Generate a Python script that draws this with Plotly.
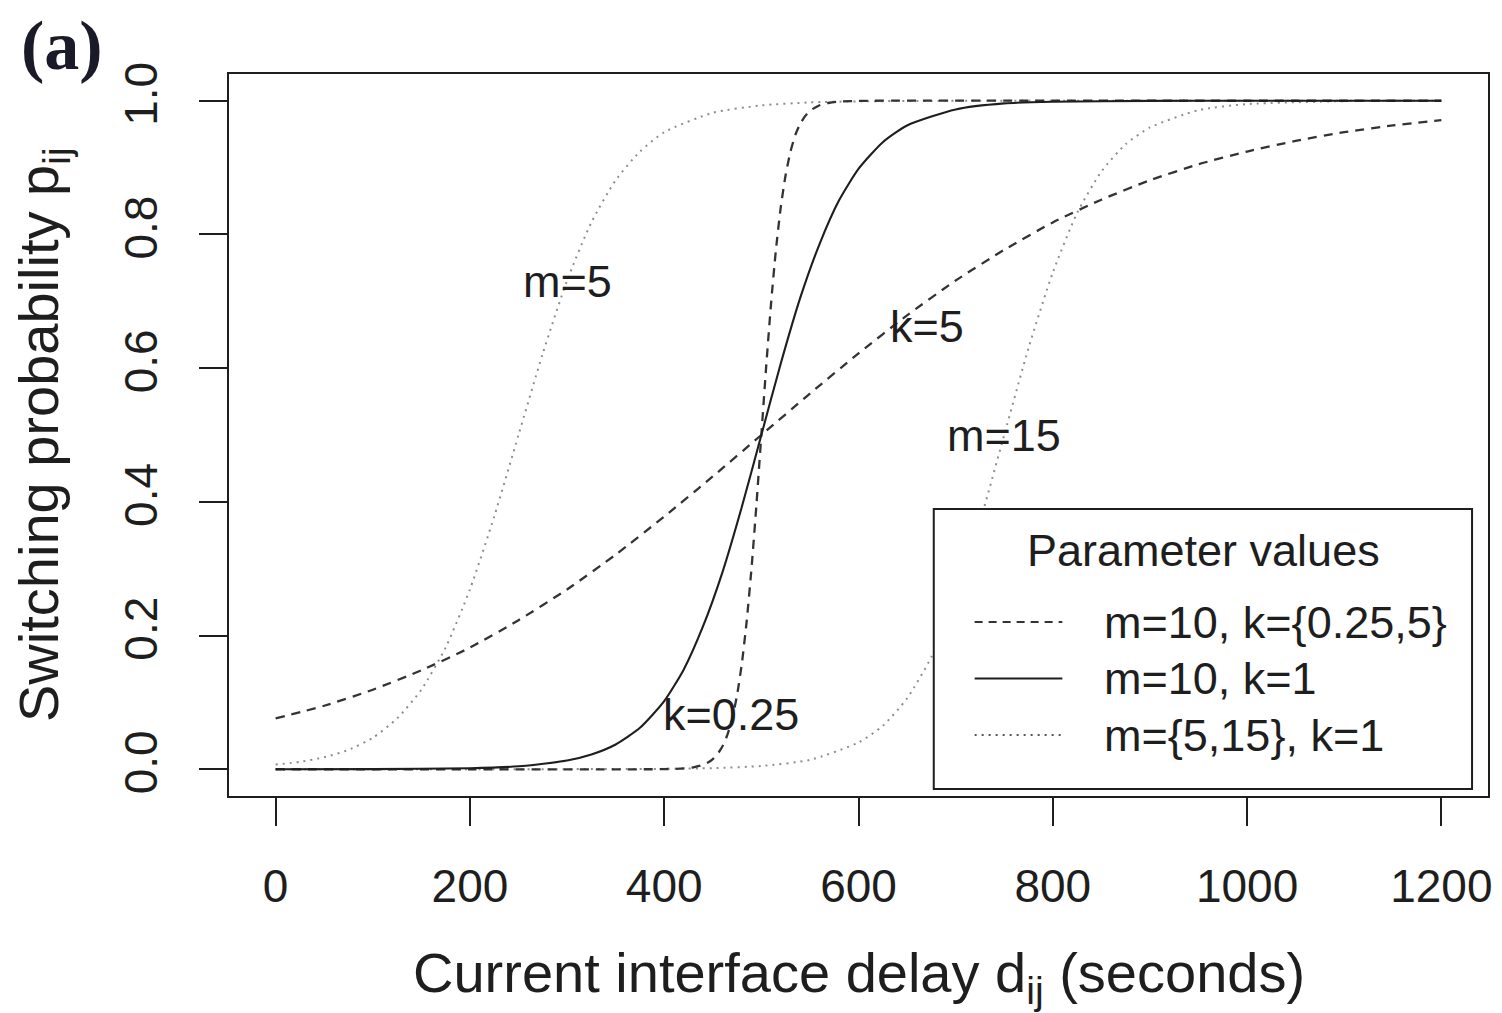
import plotly.graph_objects as go

# Switching probability curves p_ij versus current interface delay d_ij (s)
d_k1 = [0, 100, 200, 250, 300, 325, 350, 375, 400, 420, 440, 460, 480, 500,
        520, 540, 560, 580, 600, 625, 650, 700, 750, 800, 900, 1000, 1100, 1200]
p_k1 = [0.0, 0.0002, 0.0015, 0.0044, 0.013, 0.022, 0.037, 0.062, 0.102, 0.149,
        0.214, 0.295, 0.393, 0.5, 0.607, 0.705, 0.786, 0.851, 0.898, 0.938,
        0.963, 0.987, 0.996, 0.9985, 0.9998, 1.0, 1.0, 1.0]

d_k025 = [0, 200, 400, 420, 430, 440, 445, 450, 455, 460, 465, 470, 475, 480,
          485, 490, 495, 500, 505, 510, 515, 520, 525, 530, 535, 540, 545, 550,
          560, 570, 580, 600, 800, 1000, 1200]
p_k025 = [0.0, 0.0, 0.0002, 0.0013, 0.0029, 0.0067, 0.0101, 0.0153, 0.023,
          0.0345, 0.0513, 0.076, 0.111, 0.159, 0.223, 0.303, 0.397, 0.5, 0.603,
          0.697, 0.777, 0.841, 0.889, 0.924, 0.949, 0.9655, 0.977, 0.985,
          0.9933, 0.997, 0.9987, 0.9998, 1.0, 1.0, 1.0]

d_k5 = [0, 50, 100, 150, 200, 250, 300, 350, 400, 450, 500, 550, 600, 650,
        700, 750, 800, 850, 900, 950, 1000, 1050, 1100, 1150, 1200]
p_k5 = [0.076, 0.095, 0.119, 0.148, 0.182, 0.223, 0.269, 0.321, 0.378, 0.438,
        0.5, 0.562, 0.622, 0.679, 0.731, 0.777, 0.818, 0.852, 0.881, 0.905,
        0.924, 0.940, 0.953, 0.963, 0.971]

d_m5 = [0, 25, 50, 75, 100, 125, 150, 175, 200, 225, 250, 275, 300, 325, 350,
        375, 400, 450, 500, 550, 600, 700, 800, 1000, 1200]
p_m5 = [0.007, 0.011, 0.018, 0.029, 0.047, 0.076, 0.119, 0.182, 0.269, 0.378,
        0.5, 0.622, 0.731, 0.818, 0.881, 0.924, 0.953, 0.982, 0.993, 0.9975,
        0.9991, 0.9999, 1.0, 1.0, 1.0]

d_m15 = [0, 200, 400, 450, 500, 550, 600, 625, 650, 675, 700, 725, 750, 775,
         800, 825, 850, 875, 900, 950, 1000, 1100, 1200]
p_m15 = [0.0, 0.0, 0.0006, 0.0017, 0.0049, 0.014, 0.040, 0.065, 0.106, 0.168,
         0.257, 0.370, 0.5, 0.630, 0.743, 0.832, 0.894, 0.935, 0.960, 0.986,
         0.995, 0.9994, 0.9999]

x_ticks = [0, 200, 400, 600, 800, 1000, 1200]
y_ticks = [0.0, 0.2, 0.4, 0.6, 0.8, 1.0]
y_tick_text = ["0.0", "0.2", "0.4", "0.6", "0.8", "1.0"]

curve_labels = [
    ("m=5", 300, 0.73),
    ("k=5", 670, 0.663),
    ("m=15", 750, 0.499),
    ("k=0.25", 469, 0.082),
]

legend_title = "Parameter values"
legend_items = [
    ("m=10, k={0.25,5}", "dashed"),
    ("m=10, k=1", "solid"),
    ("m={5,15}, k=1", "dotted"),
]

FONT = "Liberation Sans, Arial, Helvetica, sans-serif"
INK = "#1e1e1e"
DASH_COLOR = "#333333"
DOT_COLOR = "#8e8e8e"
DASH_PATTERN = "9px,7px"
DOT_PATTERN = "2px,5px"

W, H = 1502, 1013
PL, PR, PT, PB = 229, 1492, 74, 796  # plot box edges in pixels


def fx(px):
    return (px - PL) / (PR - PL)


def fy(py):
    return (PB - py) / (PB - PT)


fig = go.Figure()

spline = dict(shape="spline", smoothing=0.6)
fig.add_trace(go.Scatter(x=d_m5, y=p_m5, mode="lines",
                         line=dict(color=DOT_COLOR, width=2, dash=DOT_PATTERN, **spline)))
fig.add_trace(go.Scatter(x=d_m15, y=p_m15, mode="lines",
                         line=dict(color=DOT_COLOR, width=2, dash=DOT_PATTERN, **spline)))
fig.add_trace(go.Scatter(x=d_k5, y=p_k5, mode="lines",
                         line=dict(color=DASH_COLOR, width=2.3, dash=DASH_PATTERN, **spline)))
fig.add_trace(go.Scatter(x=d_k025, y=p_k025, mode="lines",
                         line=dict(color=DASH_COLOR, width=2.3, dash=DASH_PATTERN, **spline)))
fig.add_trace(go.Scatter(x=d_k1, y=p_k1, mode="lines",
                         line=dict(color=INK, width=2.1, **spline)))

annotations = []
for text, xv, yv in curve_labels:
    annotations.append(dict(x=xv, y=yv, xref="x", yref="y", text=text,
                            showarrow=False, xanchor="center", yanchor="middle",
                            font=dict(family=FONT, size=45, color=INK)))

# axis titles
annotations.append(dict(x=0.5, y=0, xref="paper", yref="paper",
                        text="Current interface delay d<sub>ij</sub> (seconds)",
                        showarrow=False, xanchor="center", yanchor="middle",
                        yshift=-(976 - PB),
                        font=dict(family=FONT, size=56, color=INK)))
annotations.append(dict(x=0, y=0.5, xref="paper", yref="paper",
                        text="Switching probability p<sub>ij</sub>",
                        showarrow=False, xanchor="center", yanchor="middle",
                        xshift=-(PL - 42), textangle=-90,
                        font=dict(family=FONT, size=56, color=INK)))

# panel tag
annotations.append(dict(x=fx(61), y=fy(45), xref="paper", yref="paper",
                        text="<b>(a)</b>", showarrow=False,
                        xanchor="center", yanchor="middle",
                        font=dict(family="Liberation Serif, Times New Roman, serif",
                                  size=70, color="#1a1a28")))

# legend box
shapes = [dict(type="rect", xref="paper", yref="paper",
               x0=fx(936), x1=fx(1476), y0=fy(789), y1=fy(509),
               fillcolor="white", line=dict(color=INK, width=2), layer="above")]
annotations.append(dict(x=fx(1207), y=fy(550), xref="paper", yref="paper",
                        text=legend_title, showarrow=False,
                        xanchor="center", yanchor="middle",
                        font=dict(family=FONT, size=45, color=INK)))
styles = {
    "dashed": dict(color=DASH_COLOR, width=1.8, dash="8px,6px"),
    "solid": dict(color=INK, width=1.8),
    "dotted": dict(color=INK, width=1.5, dash="2px,5px"),
}
for i, (label, style) in enumerate(legend_items):
    ypx = 622 + i * 56.5
    shapes.append(dict(type="line", xref="paper", yref="paper",
                       x0=fx(977), x1=fx(1065), y0=fy(ypx), y1=fy(ypx),
                       line=styles[style], layer="above"))
    annotations.append(dict(x=fx(1105), y=fy(ypx), xref="paper", yref="paper",
                            text=label, showarrow=False,
                            xanchor="left", yanchor="middle",
                            font=dict(family=FONT, size=45, color=INK)))

axis_common = dict(showgrid=False, zeroline=False, showline=True, mirror=True,
                   linecolor=INK, linewidth=2, ticks="outside", ticklen=28,
                   tickwidth=2, tickcolor=INK)

fig.update_layout(
    width=W, height=H,
    margin=dict(l=PL, r=W - PR, t=PT, b=H - PB),
    paper_bgcolor="white", plot_bgcolor="white",
    showlegend=False,
    xaxis=dict(range=[-48, 1248], tickvals=x_ticks,
               tickfont=dict(family=FONT, size=46, color=INK),
               ticklabelstandoff=21, **axis_common),
    yaxis=dict(range=[-0.04, 1.04], tickvals=y_ticks, ticktext=y_tick_text,
               tickangle=-90, tickfont=dict(family=FONT, size=46, color=INK),
               ticklabelstandoff=24, **axis_common),
    annotations=annotations,
    shapes=shapes,
)

fig.write_html("out.html")
